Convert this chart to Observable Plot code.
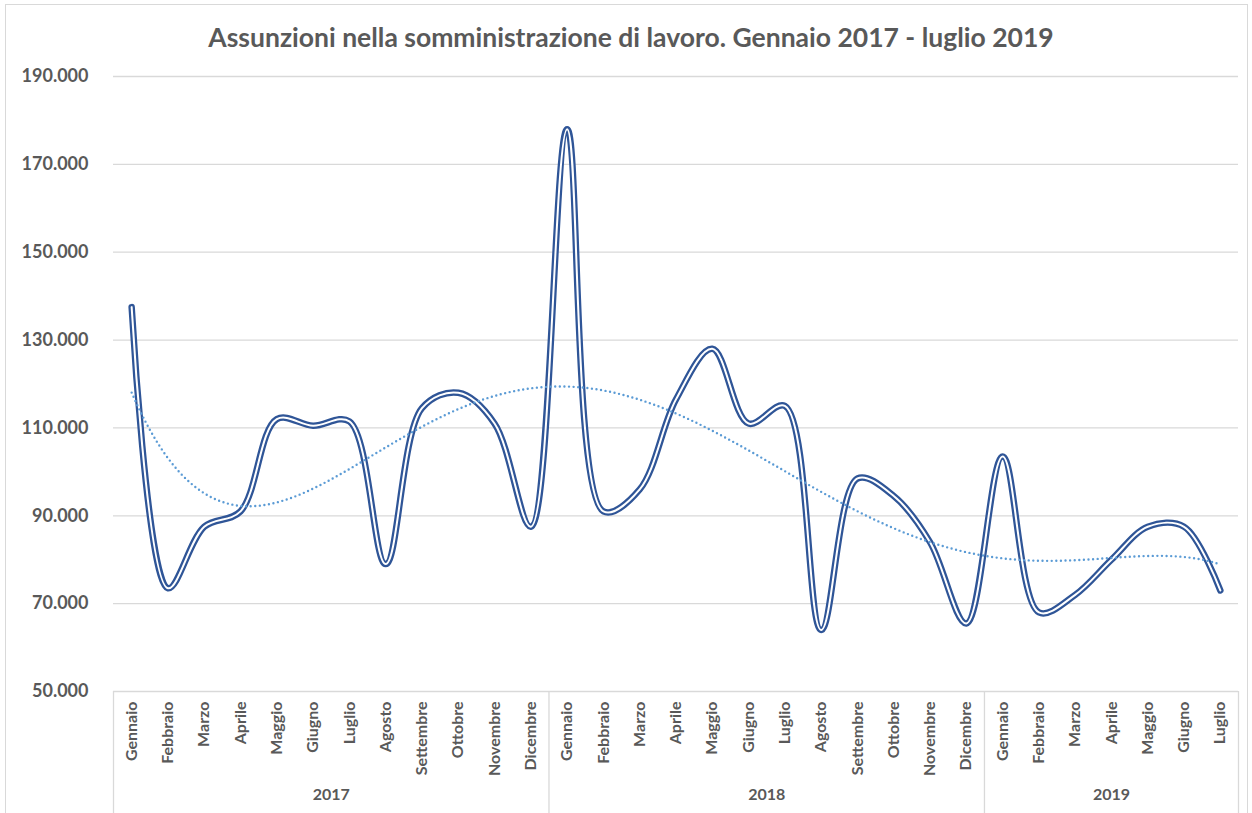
<!DOCTYPE html>
<html>
<head>
<meta charset="utf-8">
<script src="https://cdn.jsdelivr.net/npm/d3@7"></script>
<script src="https://cdn.jsdelivr.net/npm/@observablehq/plot@0.6"></script>
<style>
  html, body { margin: 0; padding: 0; background: #fff; }
  #chart { position: relative; width: 1252px; height: 813px; overflow: hidden; font-family: Lato, "Open Sans", sans-serif; }
  #frame { position: absolute; left: 5px; top: 4px; width: 1243px; height: 830px; border: 1px solid #d9d9d9; box-sizing: border-box; }
  #title { position: absolute; left: 0; top: 0; width: 1252px; height: 60px; box-sizing: border-box; padding-top: 22px; padding-left: 10px;
           text-align: center; font-size: 26.5px; line-height: 30px; font-weight: bold; color: #595959; }
  #plot { position: absolute; left: 0; top: 60px; }
  #plot g[aria-label="y-axis tick label"] text { fill: #595959; font-weight: bold; font-size: 18px; }
</style>
</head>
<body>
<div id="chart">
  <div id="frame"></div>
  <div id="title">Assunzioni nella somministrazione di lavoro. Gennaio 2017 - luglio 2019</div>
  <div id="plot"></div>
</div>
<script>
// ---- data ----
const months = ["Gennaio","Febbraio","Marzo","Aprile","Maggio","Giugno","Luglio","Agosto","Settembre","Ottobre","Novembre","Dicembre"];
const years = ["2017", "2018", "2019"];
const values2017 = [137500, 73500, 87500, 91000, 112000, 110500, 111500, 79000, 114500, 118000, 111000, 87500];
const values2018 = [178000, 91000, 96000, 116500, 128000, 111000, 115000, 64000, 98500, 94500, 84000, 65500];
const values2019 = [103500, 68000, 72000, 80000, 87500, 87500, 73000];
const yTicks = [50000, 70000, 90000, 110000, 130000, 150000, 170000, 190000];

// ---- build table ----
const seriesByYear = [values2017, values2018, values2019];
const points = [];
const groups = [];
seriesByYear.forEach((vals, yi) => {
  const start = points.length;
  vals.forEach((v, mi) => points.push({i: points.length, month: months[mi], year: years[yi], value: v}));
  groups.push({year: years[yi], start: start - 0.5, end: points.length - 0.5, center: (start + points.length - 1) / 2});
});
const boundaries = [groups[0].start, ...groups.map(g => g.end)];

// ---- polynomial trendline (least squares, degree 5) ----
function polyfit(xs, ys, deg) {
  const n = deg + 1;
  const A = Array.from({length: n}, () => new Array(n + 1).fill(0));
  xs.forEach((x, k) => {
    for (let r = 0; r < n; r++) {
      for (let c = 0; c < n; c++) A[r][c] += Math.pow(x, r + c);
      A[r][n] += ys[k] * Math.pow(x, r);
    }
  });
  for (let p = 0; p < n; p++) {
    let m = p;
    for (let r = p + 1; r < n; r++) if (Math.abs(A[r][p]) > Math.abs(A[m][p])) m = r;
    [A[p], A[m]] = [A[m], A[p]];
    for (let r = 0; r < n; r++) {
      if (r === p) continue;
      const f = A[r][p] / A[p][p];
      for (let c = p; c <= n; c++) A[r][c] -= f * A[p][c];
    }
  }
  return A.map((row, r) => row[n] / row[r]);
}
const N = points.length;
const mid = (N - 1) / 2;
const norm = i => (i - mid) / mid;
const coef = polyfit(points.map(d => norm(d.i)), points.map(d => d.value), 5);
const trend = d3.range(0, N - 1 + 1e-9, 0.1).map(i => ({i, value: coef.reduce((s, c, k) => s + c * Math.pow(norm(i), k), 0)}));

const itFormat = d3.formatLocale({decimal: ",", thousands: ".", grouping: [3], currency: ["€", ""]}).format(",d");

const blue = "#2F5597";
const plot = Plot.plot({
  width: 1252,
  height: 753,
  marginTop: 16,
  marginBottom: 122,
  marginLeft: 113,
  marginRight: 14,
  style: {fontFamily: "Lato, 'Open Sans', sans-serif", background: "transparent"},
  x: {type: "linear", domain: [-0.5, N - 0.5], axis: null},
  y: {domain: [yTicks[0], yTicks[yTicks.length - 1]], axis: null},
  marks: [
    Plot.gridY(yTicks, {stroke: "#d9d9d9", strokeOpacity: 1, strokeWidth: 1.3}),
    Plot.axisY(yTicks, {tickSize: 0, tickPadding: 25, tickFormat: itFormat, label: null}),
    Plot.ruleX(boundaries, {stroke: "#d9d9d9", strokeWidth: 1.3, insetTop: 615, insetBottom: -130}),
    Plot.text(points, {x: "i", text: "month", frameAnchor: "bottom", rotate: -90, textAnchor: "end", lineAnchor: "middle",
      dy: 10, fontSize: 16, fontWeight: "bold", fill: "#595959"}),
    Plot.text(groups, {x: "center", text: "year", frameAnchor: "bottom", dy: 108, fontSize: 16, fontWeight: "bold", fill: "#595959"}),
    Plot.line(points, {x: "i", y: "value", curve: "catmull-rom", stroke: blue, strokeWidth: 6.5, strokeLinecap: "round", strokeLinejoin: "round"}),
    Plot.line(points, {x: "i", y: "value", curve: "catmull-rom", stroke: "#ffffff", strokeWidth: 2, strokeLinecap: "round", strokeLinejoin: "round"}),
    Plot.line(trend, {x: "i", y: "value", curve: "linear", stroke: "#5B9BD5", strokeWidth: 2.4, strokeDasharray: "0 4.6", strokeLinecap: "round"})
  ]
});
document.getElementById("plot").appendChild(plot);
</script>
</body>
</html>
